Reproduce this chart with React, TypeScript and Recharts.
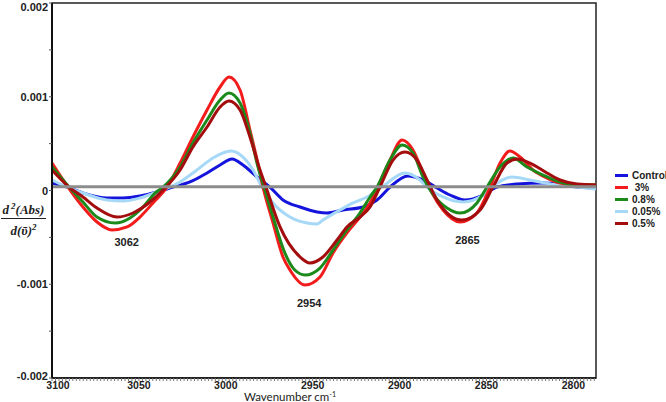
import { LineChart, Line, XAxis, YAxis, ReferenceLine, ReferenceArea, ReferenceDot } from "recharts";

// values are d2(Abs)/d(v)^2 in units of 1e-4
const controlWn = [3100, 3091.4, 3082.2, 3068.4, 3059.1, 3049.4, 3039.6, 3030.4, 3020.6, 3010.8, 3003.3, 2996.4, 2990.1, 2982, 2974.6, 2967.1, 2957.3, 2947.5, 2941.8, 2932.6, 2921, 2913, 2905.5, 2895.2, 2886.5, 2878.5, 2871, 2862.4, 2852, 2844, 2832.4, 2817.5, 2806, 2797.9, 2787];
const controlVal = [0.8, 0.37, -0.27, -0.8, -0.8, -0.59, -0.16, 0.37, 0.91, 1.87, 2.72, 3.36, 2.72, 1.44, 0.37, -1.01, -1.76, -2.29, -2.4, -2.08, -1.76, -1.01, 0.37, 1.55, 1.12, 0.27, -0.48, -1.01, -0.48, 0.37, 0.69, 0.8, 0.59, 0.37, 0.27];

const p3Wn = [3100, 3090.8, 3082.2, 3074.1, 3065.5, 3056.8, 3049.4, 3041.9, 3033.8, 3026.3, 3018.9, 3010.8, 3003.3, 2998.2, 2991.8, 2986.1, 2982, 2978.6, 2972.8, 2967.1, 2963.1, 2954.4, 2945.8, 2938.3, 2930.3, 2922.8, 2917, 2912.4, 2905.5, 2898.6, 2892.3, 2886.5, 2881.3, 2875, 2865.2, 2855.5, 2847.9, 2842.2, 2836.5, 2830.7, 2823.2, 2815.2, 2807.7, 2797.9, 2787];
const p3Val = [2.93, 0.37, -1.76, -3.36, -4.21, -3.89, -2.83, -1.33, 0.37, 2.93, 5.71, 8.59, 11.04, 12.11, 10.72, 6.45, 3.25, 0.37, -3.47, -7.09, -8.48, -10.08, -9.23, -6.67, -4.53, -2.83, -1.33, 0.48, 3.25, 5.39, 4.32, 1.87, -0.27, -2.08, -3.36, -2.4, 0.37, 2.93, 4.21, 3.57, 2.19, 1.33, 0.8, 0.59, 0.59];

const p08Wn = [3100, 3090.2, 3082.2, 3074.1, 3063.7, 3055.1, 3047.6, 3040.7, 3036.1, 3026.3, 3018.9, 3010.8, 3003.3, 2998.2, 2991.8, 2986.1, 2981.5, 2978, 2972.8, 2966, 2960.3, 2954.4, 2945.8, 2938.3, 2930.3, 2922.8, 2917, 2913, 2905.5, 2898.6, 2892.3, 2886.5, 2881.3, 2872.7, 2865.2, 2855.5, 2849.7, 2842.2, 2834.7, 2826.7, 2817.5, 2807.7, 2797.9, 2787];
const p08Val = [2.51, 0.37, -1.23, -2.83, -3.47, -2.93, -1.76, -0.27, 0.37, 2.51, 5.07, 7.52, 9.65, 10.4, 9.33, 6.13, 2.51, 0.37, -2.83, -6.67, -8.48, -9.01, -8.27, -6.35, -4.21, -2.4, -0.69, 0.37, 3.25, 4.85, 4.0, 1.44, -0.27, -1.87, -2.4, -1.33, 0.37, 2.51, 3.47, 2.51, 1.65, 0.91, 0.59, 0.59];

const p005Wn = [3100, 3091.4, 3082.2, 3068.4, 3059.1, 3049.4, 3039.6, 3026.3, 3016.6, 3007.4, 2997, 2990.1, 2984.3, 2979.2, 2972.8, 2963.1, 2953.3, 2947.5, 2944.1, 2934.3, 2926.8, 2918.7, 2910.1, 2896.9, 2888.3, 2884.2, 2875, 2863.5, 2852, 2846.8, 2835.3, 2825, 2813.5, 2797.9, 2787];
const p005Val = [1.12, 0.37, -0.27, -1.01, -1.12, -0.8, -0.16, 0.91, 2.19, 3.47, 4.21, 3.57, 2.19, 0.37, -1.33, -2.83, -3.47, -3.57, -3.15, -2.08, -1.33, -0.69, 0.37, 1.87, 1.12, 0.37, -0.69, -1.23, -0.48, 0.37, 1.44, 1.12, 0.69, 0.37, 0.16];

const p05Wn = [3100, 3090.2, 3082.2, 3074.1, 3062.6, 3053.4, 3043.6, 3036.1, 3026.3, 3018.9, 3010.8, 3003.3, 2998.2, 2991.8, 2986.1, 2980.3, 2976.9, 2968.8, 2957.3, 2951.6, 2944.1, 2936, 2930.3, 2922.8, 2917, 2911.3, 2903.8, 2896.9, 2890, 2884.2, 2878.5, 2864.1, 2853.7, 2846.3, 2838.2, 2832.4, 2825, 2815.2, 2807.7, 2797.9, 2787];
const p05Val = [2.19, 0.37, -0.69, -1.87, -2.83, -2.4, -1.23, 0.05, 2.19, 4.64, 6.77, 8.91, 9.55, 8.59, 5.71, 2.19, 0.37, -3.89, -7.09, -7.73, -7.09, -5.28, -3.89, -2.83, -1.76, 0.37, 3.25, 4.11, 3.25, 1.12, -1.01, -3.15, -2.08, 0.37, 2.93, 3.36, 2.93, 1.87, 1.12, 0.69, 0.59];

const seriesNames = ["Control", " 3%", "0.8%", "0.05%", "0.5%"];
const seriesColors = ["#1414dc", "#f21c1c", "#1b8a1b", "#a6d8f7", "#a30d0d"];

const peakLabels = ["3062", "2954", "2865"];
const peakLabelWn = [3057, 2952, 2861];
const peakLabelVal = [-5.5, -12.0, -5.3];

const xLabelTicks = [3100, 3050, 3000, 2950, 2900, 2850, 2800];
const yLabelTicks = [-20, -10, 0, 10, 20];
const BASELINE = 0.4;

const zip = (wn: number[], val: number[]) => wn.map((w, i) => ({ wn: w, v: val[i] }));

const series = [
  { name: seriesNames[0], color: seriesColors[0], data: zip(controlWn, controlVal) },
  { name: seriesNames[3], color: seriesColors[3], data: zip(p005Wn, p005Val) },
  { name: seriesNames[1], color: seriesColors[1], data: zip(p3Wn, p3Val) },
  { name: seriesNames[2], color: seriesColors[2], data: zip(p08Wn, p08Val) },
  { name: seriesNames[4], color: seriesColors[4], data: zip(p05Wn, p05Val) },
];

// minor ticks every 2 cm-1, only multiples of 50 get a label
const xTicks = Array.from({ length: 157 }, (_, i) => 2788 + i * 2);
const yTicks = [-20, -15, -10, -5, 0, 5, 10, 15, 20];

const SANS = '"Liberation Sans", Arial, sans-serif';

const XTick = ({ x, y, payload }: any) => {
  const v = payload.value;
  if (!xLabelTicks.includes(v)) return null;
  // first label sits a little right of the axis corner, like the original
  const dx = v === 3100 ? 6 : 0;
  return (
    <text x={x + dx} y={y + 8} textAnchor="middle" fontSize={10.5} fontWeight="bold" fill="#222" fontFamily={SANS}>
      {v}
    </text>
  );
};

const YTick = ({ x, y, payload }: any) => {
  const v = payload.value;
  if (!yLabelTicks.includes(v)) return null;
  const dy = v === 20 ? 8 : v === -20 ? 2 : 4;
  return (
    <text x={x} y={y + dy} textAnchor="end" fontSize={11} fontWeight="bold" fill="#222" fontFamily={SANS}>
      {String(v / 10000)}
    </text>
  );
};

export default function App() {
  return (
    <div style={{ position: "absolute", left: 0, top: 0, width: 666, height: 402, background: "#fff" }}>
      <LineChart width={666} height={402} margin={{ top: 3, right: 70, bottom: 0, left: 0 }}>
        <XAxis
          type="number"
          dataKey="wn"
          domain={[2787, 3100]}
          reversed
          ticks={xTicks}
          interval={0}
          tickSize={3}
          tickMargin={0}
          height={24}
          stroke="#111"
          strokeWidth={1.5}
          tick={<XTick />}
          tickLine={{ stroke: "#777", strokeWidth: 1 }}
        />
        <YAxis
          type="number"
          domain={[-20, 20]}
          ticks={yTicks}
          interval={0}
          width={52}
          tickSize={3}
          tickMargin={1}
          stroke="#111"
          strokeWidth={2}
          tick={<YTick />}
          tickLine={{ stroke: "#555", strokeWidth: 1 }}
        />
        <ReferenceArea x1={2787} x2={3100} y1={-20} y2={20} fill="none" stroke="#222" strokeWidth={1.5} />
        {series.map((s) => (
          <Line
            key={s.name}
            data={s.data}
            dataKey="v"
            type="monotone"
            stroke={s.color}
            strokeWidth={3}
            dot={false}
            isAnimationActive={false}
          />
        ))}
        <ReferenceLine y={BASELINE} stroke="#8c8c8c" strokeWidth={3} />
        {peakLabels.map((t, i) => (
          <ReferenceDot
            key={t}
            x={peakLabelWn[i]}
            y={peakLabelVal[i]}
            r={0}
            fill="none"
            stroke="none"
            label={{ value: t, position: "center", fill: "#222", fontSize: 11, fontWeight: "bold", fontFamily: SANS }}
          />
        ))}
      </LineChart>

      {/* y axis title */}
      <div
        style={{
          position: "absolute",
          left: 1,
          top: 199,
          width: 45,
          fontFamily: '"Liberation Serif", "Times New Roman", serif',
          fontWeight: "bold",
          fontStyle: "italic",
          fontSize: 13,
          color: "#222",
          textAlign: "center",
          lineHeight: "14px",
        }}
      >
        <div style={{ borderBottom: "1px solid #222", paddingBottom: 1 }}>
          d<sup style={{ fontSize: 9, verticalAlign: 5, marginLeft: 2 }}>2</sup>(Abs)
        </div>
        <div style={{ paddingTop: 1 }}>
          d(ῦ)<sup style={{ fontSize: 9, verticalAlign: 5 }}>2</sup>
        </div>
      </div>

      {/* x axis title */}
      <div
        style={{
          position: "absolute",
          left: 240,
          top: 392,
          width: 100,
          textAlign: "center",
          fontFamily: "Lato, sans-serif",
          fontSize: 11.5,
          color: "#222",
          lineHeight: "10px",
          whiteSpace: "nowrap",
        }}
      >
        Wavenumber cm<sup style={{ fontSize: 7, verticalAlign: 4, lineHeight: 0 }}>-1</sup>
      </div>

      {/* legend */}
      <div style={{ position: "absolute", left: 615, top: 169, fontFamily: SANS, fontSize: 10, fontWeight: "bold", color: "#222" }}>
        {seriesNames.map((n, i) => (
          <div key={n} style={{ display: "flex", alignItems: "center", height: 12, whiteSpace: "pre" }}>
            <span style={{ display: "inline-block", width: 13, height: 3, background: seriesColors[i], marginRight: 4 }} />
            {n}
          </div>
        ))}
      </div>
    </div>
  );
}
